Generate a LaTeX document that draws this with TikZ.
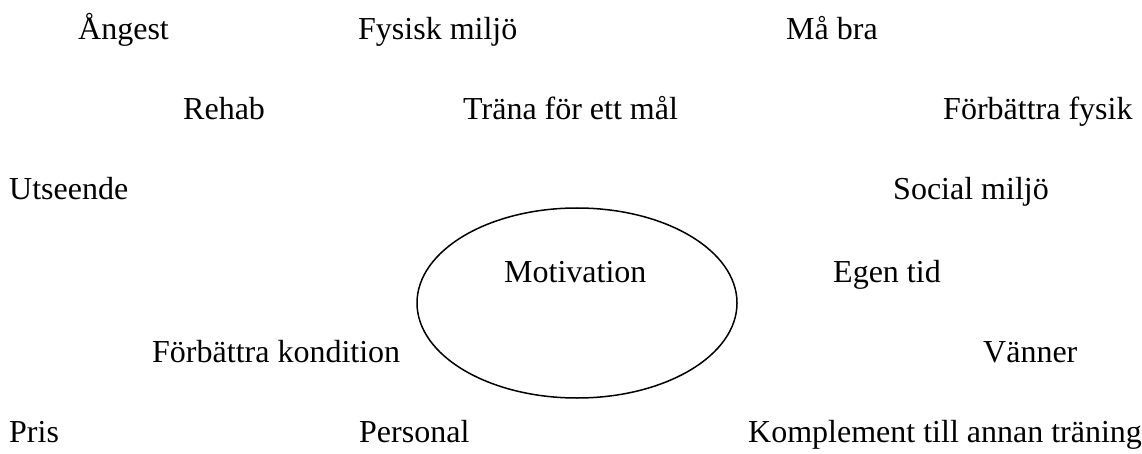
\documentclass[tikz,border=0pt]{standalone}
\usepackage{fontspec}
\setmainfont{Liberation Serif}
\usetikzlibrary{shapes.geometric}
\begin{document}
\begin{tikzpicture}[x=1pt,y=-1pt,
  lbl/.style={anchor=base west,inner sep=0pt,font=\fontsize{32}{38}\selectfont},
  motiv/.style={draw,line width=1.5pt,ellipse,minimum width=320pt,minimum height=190pt,inner sep=0pt}]
\useasboundingbox (0,0) rectangle (1142,454);
\node[motiv] (ell) at (577,303) {};
\node[lbl] (mot) at (504,282) {Motivation};
\node[lbl] (angest) at (78,40) {Ångest};
\node[lbl] (fysm) at (358,40) {Fysisk miljö};
\node[lbl] (mabra) at (786,40) {Må bra};
\node[lbl] (rehab) at (183,120) {Rehab};
\node[lbl] (trana) at (463,120) {Träna för ett mål};
\node[lbl] (fbfys) at (943,120) {Förbättra fysik};
\node[lbl] (utse) at (9,200) {Utseende};
\node[lbl] (socm) at (893,200) {Social miljö};
\node[lbl] (egen) at (833,282) {Egen tid};
\node[lbl] (fbkond) at (152,362) {Förbättra kondition};
\node[lbl] (vanner) at (983,362) {Vänner};
\node[lbl] (pris) at (9,442) {Pris};
\node[lbl] (pers) at (359,442) {Personal};
\node[lbl] (kompl) at (748,442) {Komplement till annan träning};
\end{tikzpicture}
\end{document}
